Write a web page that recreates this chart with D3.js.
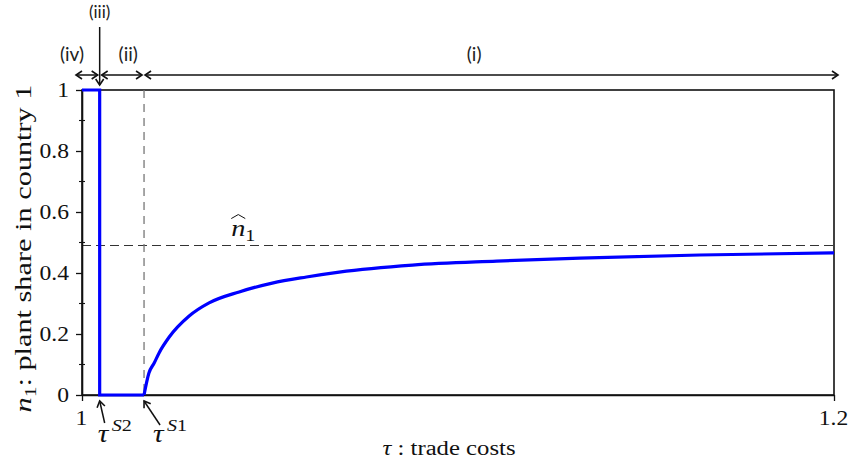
<!DOCTYPE html>
<html>
<head>
<meta charset="utf-8">
<script src="https://cdnjs.cloudflare.com/ajax/libs/d3/7.8.5/d3.min.js"></script>
</head>
<body style="margin:0;background:#fff">
<div id="chart"></div>
<script>
// Chart data: trade costs (tau) against plant share in country 1 (n1)
var stepTau = [1.0, 1.0047, 1.0047, 1.0165];
var stepShare = [1, 1, 0, 0];

var curveTau = [1.0165, 1.0178, 1.0192, 1.0205, 1.0232, 1.0285, 1.0338, 1.0418,
  1.0506, 1.0597, 1.0684, 1.0879, 1.1103, 1.1324, 1.1643, 1.2];
var curveShare = [0, 0.072, 0.105, 0.138, 0.190, 0.259, 0.302, 0.338,
  0.367, 0.387, 0.403, 0.426, 0.439, 0.449, 0.459, 0.466];

var nHat = 0.49;        // long run share (dashed line)
var tauS1 = 1.0165;     // threshold tau^S1
var tauS2 = 1.0047;     // threshold tau^S2

var xTicks = [1, 1.2];
var xTickLabels = ["1", "1.2"];
var yTicks = [0, 0.2, 0.4, 0.6, 0.8, 1];
var yTickLabels = ["0", "0.2", "0.4", "0.6", "0.8", "1"];
var yMinorTicks = [0.1, 0.3, 0.5, 0.7, 0.9];

// zones across the top: label and tau range
var zoneLabels = ["(iv)", "(ii)", "(i)"];
var zoneStart = [1.0, tauS2, tauS1];
var zoneEnd = [tauS2, tauS1, 1.2];

var svgWidth = 849;
var svgHeight = 465;
var margin = { top: 90, right: 15, bottom: 70, left: 82 };
var width = svgWidth - margin.left - margin.right;
var height = svgHeight - margin.top - margin.bottom;

var serifFont = "Liberation Serif";
var sansFont = "Lato";

var svg = d3.select("#chart")
  .append("svg")
  .attr("width", svgWidth)
  .attr("height", svgHeight);

var defs = svg.append("defs");
defs.append("marker")
  .attr("id", "head")
  .attr("viewBox", "0 -5 10 10")
  .attr("refX", 7)
  .attr("refY", 0)
  .attr("markerUnits", "userSpaceOnUse")
  .attr("markerWidth", 10)
  .attr("markerHeight", 10)
  .attr("orient", "auto-start-reverse")
  .append("path")
  .attr("d", "M1,-4L7,0L1,4")
  .attr("fill", "none")
  .attr("stroke", "#111")
  .attr("stroke-width", 1.6);

var chartGroup = svg.append("g")
  .attr("transform", `translate(${margin.left}, ${margin.top})`);

var x = d3.scaleLinear().domain([1, 1.2]).range([0, width]);
var y = d3.scaleLinear().domain([0, 1]).range([height, 0]);

// serif text in the original is wider than Times
var stretch = 1.18;

function serifText(sel, size) {
  sel.attr("fill", "#111")
    .attr("font-family", serifFont)
    .attr("font-size", size)
    .style("font-family", serifFont)
    .style("font-size", size + "px");
}

// frame
chartGroup.append("rect")
  .attr("width", width)
  .attr("height", height)
  .attr("fill", "none")
  .attr("stroke", "#111")
  .attr("stroke-width", 1.6);

// dashed guides
chartGroup.append("line")
  .attr("x1", 0).attr("x2", width)
  .attr("y1", y(nHat)).attr("y2", y(nHat))
  .attr("stroke", "#333")
  .attr("stroke-width", 1.1)
  .attr("stroke-dasharray", "9,5");

chartGroup.append("line")
  .attr("x1", x(tauS1)).attr("x2", x(tauS1))
  .attr("y1", 0).attr("y2", height)
  .attr("stroke", "#777")
  .attr("stroke-width", 1.3)
  .attr("stroke-dasharray", "8,6");

// axes
var leftAxis = d3.axisLeft(y)
  .tickValues(yTicks)
  .tickFormat((d, i) => yTickLabels[i])
  .tickSizeInner(6)
  .tickSizeOuter(0);

var yAxisG = chartGroup.append("g").call(leftAxis)
  .attr("font-family", serifFont);
yAxisG.select(".domain").attr("stroke", "#111").attr("stroke-width", 1.6);
yAxisG.selectAll(".tick line").attr("stroke", "#111").attr("stroke-width", 1.3);
yAxisG.selectAll(".tick text")
  .call(serifText, 20)
  .attr("x", 0)
  .attr("dy", "0.33em")
  .attr("transform", `translate(-13,0) scale(${stretch},1)`);

chartGroup.selectAll(".minor")
  .data(yMinorTicks)
  .enter()
  .append("line")
  .attr("class", "minor")
  .attr("x1", -3).attr("x2", 3)
  .attr("y1", d => y(d)).attr("y2", d => y(d))
  .attr("stroke", "#111")
  .attr("stroke-width", 1.1);

var bottomAxis = d3.axisBottom(x)
  .tickValues(xTicks)
  .tickFormat((d, i) => xTickLabels[i])
  .tickSizeInner(6)
  .tickSizeOuter(0);

var xAxisG = chartGroup.append("g")
  .attr("transform", `translate(0, ${height})`)
  .call(bottomAxis)
  .attr("font-family", serifFont);
xAxisG.select(".domain").attr("stroke", "#111").attr("stroke-width", 1.6);
xAxisG.selectAll(".tick line").attr("stroke", "#111").attr("stroke-width", 1.3);
xAxisG.selectAll(".tick text")
  .call(serifText, 20)
  .attr("y", 0)
  .attr("dy", 0)
  .attr("transform", `translate(-1,30) scale(${stretch},1)`);

// the share line: jump part then the smooth curve
var stepLine = d3.line()
  .x((d, i) => x(stepTau[i]))
  .y(d => y(d));

chartGroup.append("path")
  .datum(stepShare)
  .attr("d", stepLine)
  .attr("fill", "none")
  .attr("stroke", "#0000ff")
  .attr("stroke-width", 3.2);

var curveLine = d3.line()
  .x((d, i) => x(curveTau[i]))
  .y(d => y(d))
  .curve(d3.curveMonotoneX);

chartGroup.append("path")
  .datum(curveShare)
  .attr("d", curveLine)
  .attr("fill", "none")
  .attr("stroke", "#0000ff")
  .attr("stroke-width", 3.2);

// n-hat label
var hatLabel = chartGroup.append("g")
  .attr("transform", `translate(${x(1.0397)}, ${y(nHat) - 10})`);
hatLabel.append("text")
  .call(serifText, 24)
  .attr("transform", `scale(${stretch},1)`)
  .style("font-style", "italic")
  .text("n");
hatLabel.append("text")
  .call(serifText, 17)
  .attr("transform", `translate(14,5) scale(${stretch},1)`)
  .text("1");
hatLabel.append("path")
  .attr("d", "M0,-17L7,-21L14,-17")
  .attr("fill", "none")
  .attr("stroke", "#111")
  .attr("stroke-width", 1);

// threshold labels with arrows
function thresholdLabel(tau, dx, dy, sup) {
  chartGroup.append("line")
    .attr("x1", x(tau) + dx).attr("y1", height + dy)
    .attr("x2", x(tau)).attr("y2", height + 6)
    .attr("stroke", "#111")
    .attr("stroke-width", 1.5)
    .attr("marker-end", "url(#head)");
  var g = chartGroup.append("g")
    .attr("transform", `translate(${x(tau) + dx - 7}, ${height + 47})`);
  g.append("text")
    .call(serifText, 25)
    .attr("transform", `scale(${stretch},1)`)
    .style("font-style", "italic")
    .text("τ");
  g.append("text")
    .call(serifText, 17)
    .attr("transform", `translate(14,-11) scale(${stretch},1)`)
    .html("<tspan font-style='italic'>S</tspan>" + sup);
}
thresholdLabel(tauS2, 5, 28, "2");
thresholdLabel(tauS1, 16, 30, "1");

// axis titles
chartGroup.append("text")
  .call(serifText, 20)
  .attr("transform", `translate(${width / 2 - 9}, ${height + 60})`)
  .attr("text-anchor", "middle")
  .attr("textLength", 133)
  .attr("lengthAdjust", "spacingAndGlyphs")
  .html("<tspan font-style='italic'>τ</tspan> : trade costs");

chartGroup.append("text")
  .call(serifText, 24)
  .attr("transform", `translate(${31 - margin.left}, ${height / 2 + 6}) rotate(-90)`)
  .attr("text-anchor", "middle")
  .attr("textLength", 328)
  .attr("lengthAdjust", "spacingAndGlyphs")
  .html("<tspan font-style='italic'>n</tspan><tspan font-size='17px' dy='5'>1</tspan><tspan dy='-5'>: plant share in country 1</tspan>");

// zone arrows across the top
var arrowY = -15;
zoneLabels.forEach(function (label, i) {
  var pad = i === 2 ? 1 : 2;
  chartGroup.append("line")
    .attr("x1", x(zoneStart[i]) - (i === 0 ? 6 : -pad))
    .attr("x2", x(zoneEnd[i]) + (i === 2 ? 4 : -pad))
    .attr("y1", arrowY).attr("y2", arrowY)
    .attr("stroke", "#111")
    .attr("stroke-width", 1.5)
    .attr("marker-start", "url(#head)")
    .attr("marker-end", "url(#head)");
});

var zoneLabelX = [x(1.0) - 10, x(1.0123), x(1.1043)];
chartGroup.selectAll(".zone")
  .data(zoneLabels)
  .enter()
  .append("text")
  .attr("class", "zone")
  .attr("x", (d, i) => zoneLabelX[i])
  .attr("y", -29)
  .attr("text-anchor", "middle")
  .attr("fill", "#222")
  .style("font-family", sansFont)
  .style("font-size", "19px")
  .text(d => d);

chartGroup.append("text")
  .attr("x", x(tauS2))
  .attr("y", -72)
  .attr("text-anchor", "middle")
  .attr("fill", "#222")
  .style("font-family", sansFont)
  .style("font-size", "17px")
  .text("(iii)");

chartGroup.append("line")
  .attr("x1", x(tauS2)).attr("x2", x(tauS2))
  .attr("y1", -63).attr("y2", -5)
  .attr("stroke", "#111")
  .attr("stroke-width", 1.5)
  .attr("marker-end", "url(#head)");
</script>
</body>
</html>
